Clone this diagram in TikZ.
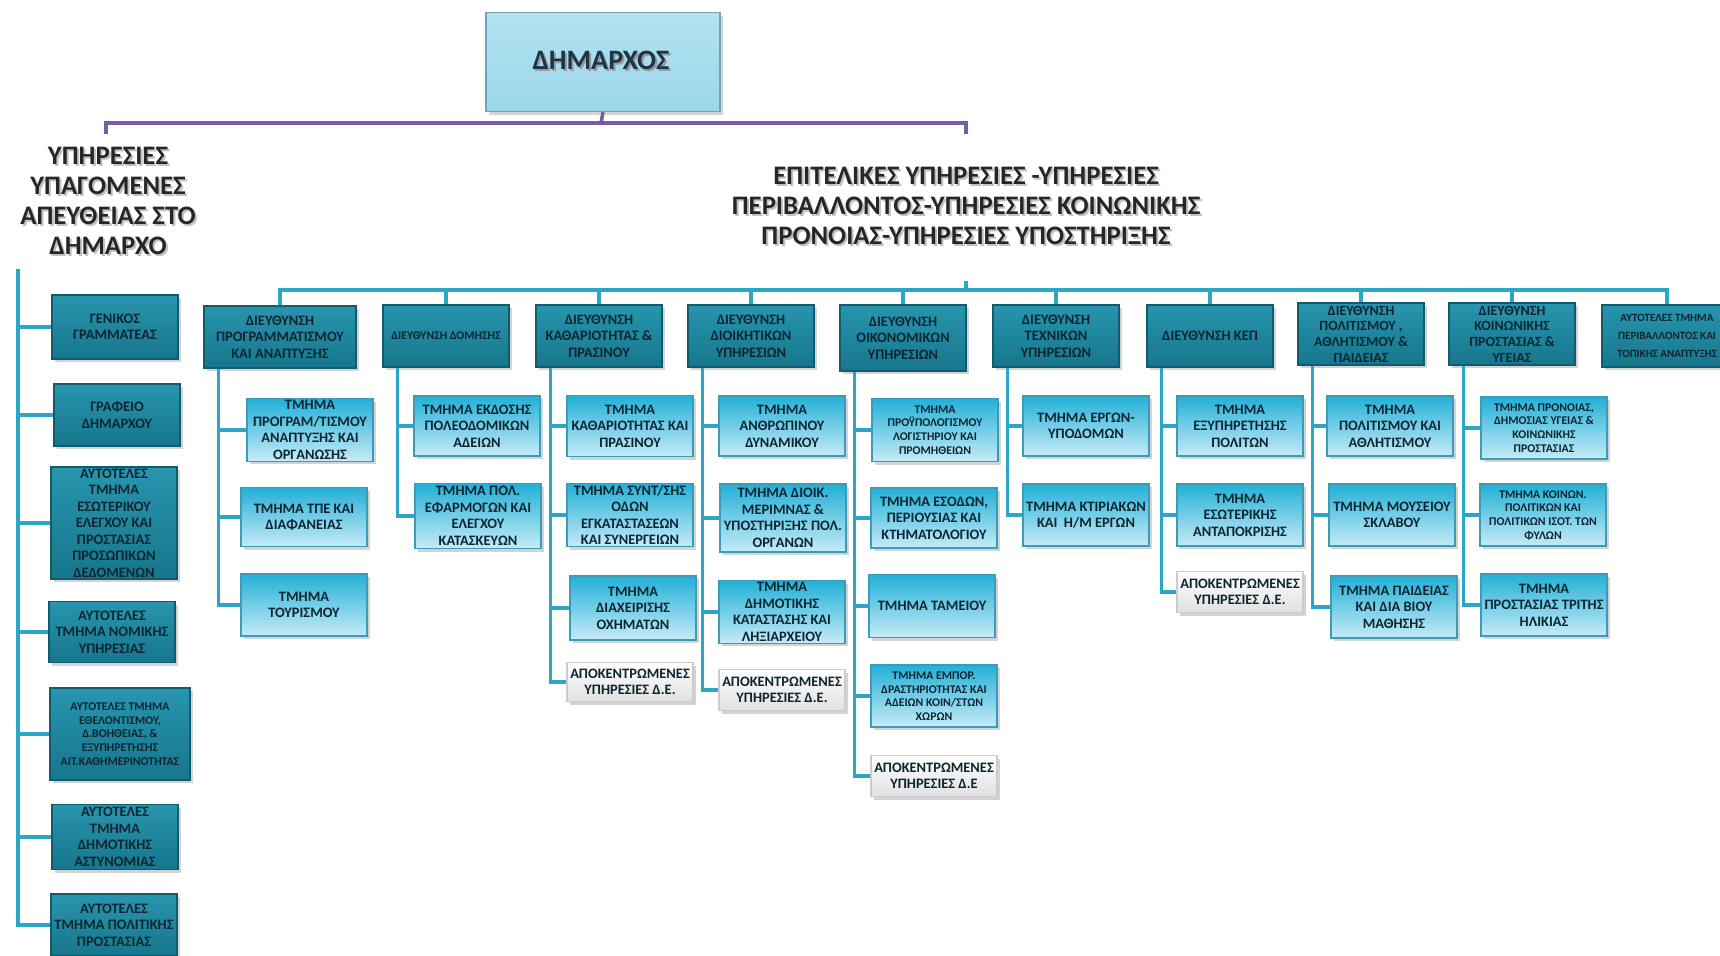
\documentclass[tikz,border=0pt]{standalone}
\usepackage{fontspec}
\setmainfont{Carlito}
\usepackage{tikz}
\usetikzlibrary{positioning, shadows}
\definecolor{dirtop}{HTML}{2895AE}
\definecolor{dirbot}{HTML}{16768D}
\definecolor{dirdark}{HTML}{0F5C6E}
\definecolor{sectop}{HTML}{22B0D7}
\definecolor{secbot}{HTML}{C6EBF7}
\definecolor{secdark}{HTML}{3C9CB8}
\definecolor{boxtext}{HTML}{0C2530}
\definecolor{linkcol}{HTML}{2CA6C6}
\definecolor{purp}{HTML}{7A5AA5}
\definecolor{mayor}{HTML}{9AD8EB}
\definecolor{mayortext}{HTML}{1E3448}

\begin{document}
\begin{tikzpicture}[x=0.2mm, y=-0.2mm,
    box/.style={rectangle, align=center, inner sep=1pt, minimum width=25.2mm, minimum height=12.4mm,
        font=\bfseries\fontsize{8.2}{9.4}\selectfont, text=boxtext,
        drop shadow={shadow xshift=0.6mm, shadow yshift=-0.6mm, opacity=0.35}},
    dirbox/.style={box, draw=dirdark, line width=0.8pt, top color=dirtop, bottom color=dirbot},
    secbox/.style={box, draw=secdark, line width=0.6pt, top color=sectop, bottom color=secbot},
    decbox/.style={box, draw=black!20, line width=0.6pt, top color=white, bottom color=black!12, minimum height=8.2mm},
    small/.style={font=\bfseries\fontsize{6.7}{7.8}\selectfont},
    head/.style={align=center, font=\bfseries\fontsize{15.2}{17}\selectfont, text=black!85},
    headsh/.style={head, text=black!35, opacity=0.7},
    link/.style={draw=linkcol, line width=1.8pt},
    plink/.style={draw=purp, line width=2pt}]
    \useasboundingbox (0,0) rectangle (1720,955);
    \clip (0,0) rectangle (1720,955);

    % mayor and headings
    \node[box, draw=mayor!75!black, line width=0.8pt, top color=mayor!75!white, bottom color=mayor,
        minimum width=46.8mm, minimum height=19.8mm, font=\bfseries\fontsize{16}{18}\selectfont, text=black!40] (dimsh) at (603,62) {ΔΗΜΑΡΧΟΣ};
    \node[font=\bfseries\fontsize{16}{18}\selectfont, text=mayortext] (dimtxt) at (601,60) {ΔΗΜΑΡΧΟΣ};
    \node[headsh] (lheadsh) at (110,203) {ΥΠΗΡΕΣΙΕΣ\\ΥΠΑΓΟΜΕΝΕΣ\\ΑΠΕΥΘΕΙΑΣ ΣΤΟ\\ΔΗΜΑΡΧΟ};
    \node[head] (lhead) at (108,201) {ΥΠΗΡΕΣΙΕΣ\\ΥΠΑΓΟΜΕΝΕΣ\\ΑΠΕΥΘΕΙΑΣ ΣΤΟ\\ΔΗΜΑΡΧΟ};
    \node[headsh] (rheadsh) at (968,208) {ΕΠΙΤΕΛΙΚΕΣ ΥΠΗΡΕΣΙΕΣ -ΥΠΗΡΕΣΙΕΣ\\ΠΕΡΙΒΑΛΛΟΝΤΟΣ-ΥΠΗΡΕΣΙΕΣ ΚΟΙΝΩΝΙΚΗΣ\\ΠΡΟΝΟΙΑΣ-ΥΠΗΡΕΣΙΕΣ ΥΠΟΣΤΗΡΙΞΗΣ};
    \node[head] (rhead) at (966,206) {ΕΠΙΤΕΛΙΚΕΣ ΥΠΗΡΕΣΙΕΣ -ΥΠΗΡΕΣΙΕΣ\\ΠΕΡΙΒΑΛΛΟΝΤΟΣ-ΥΠΗΡΕΣΙΕΣ ΚΟΙΝΩΝΙΚΗΣ\\ΠΡΟΝΟΙΑΣ-ΥΠΗΡΕΣΙΕΣ ΥΠΟΣΤΗΡΙΞΗΣ};

    \coordinate (pm) at (601,123);
    \coordinate (pl) at (106,134);
    \coordinate (pr) at (966,134);
    \draw[plink] (dimsh.south) -- (pm);
    \draw[plink] (pl) |- (pm) -| (pr);

    % services under the mayor
    \node[dirbox, minimum height=12.8mm] (l1) at (115,327) {ΓΕΝΙΚΟΣ\\ΓΡΑΜΜΑΤΕΑΣ};
    \node[dirbox] (l2) at (117,415) {ΓΡΑΦΕΙΟ\\ΔΗΜΑΡΧΟΥ};
    \node[dirbox, minimum height=19.4mm] (l3) at (114,523) {ΑΥΤΟΤΕΛΕΣ\\ΤΜΗΜΑ\\ΕΣΩΤΕΡΙΚΟΥ\\ΕΛΕΓΧΟΥ ΚΑΙ\\ΠΡΟΣΤΑΣΙΑΣ\\ΠΡΟΣΩΠΙΚΩΝ\\ΔΕΔΟΜΕΝΩΝ};
    \node[dirbox, minimum height=12.2mm] (l4) at (112,632) {ΑΥΤΟΤΕΛΕΣ\\ΤΜΗΜΑ ΝΟΜΙΚΗΣ\\ΥΠΗΡΕΣΙΑΣ};
    \node[dirbox, small, minimum width=28mm, minimum height=18.4mm] (l5) at (120,734) {ΑΥΤΟΤΕΛΕΣ ΤΜΗΜΑ\\ΕΘΕΛΟΝΤΙΣΜΟΥ,\\Δ.ΒΟΗΘΕΙΑΣ, \&\\ΕΞΥΠΗΡΕΤΗΣΗΣ\\ΑΙΤ.ΚΑΘΗΜΕΡΙΝΟΤΗΤΑΣ};
    \node[dirbox, minimum height=13mm] (l6) at (115,837) {ΑΥΤΟΤΕΛΕΣ\\ΤΜΗΜΑ\\ΔΗΜΟΤΙΚΗΣ\\ΑΣΤΥΝΟΜΙΑΣ};
    \node[dirbox] (l7) at (114,925) {ΑΥΤΟΤΕΛΕΣ\\ΤΜΗΜΑ ΠΟΛΙΤΙΚΗΣ\\ΠΡΟΣΤΑΣΙΑΣ};

    \coordinate (lv) at (18,269);
    \draw[link] (lv) |- (l1);
    \draw[link] (lv) |- (l2);
    \draw[link] (lv) |- (l3);
    \draw[link] (lv) |- (l4);
    \draw[link] (lv) |- (l5);
    \draw[link] (lv) |- (l6);
    \draw[link] (lv) |- (l7);

    % directorates
    \node[dirbox, minimum width=30.4mm] (d1) at (280,337) {ΔΙΕΥΘΥΝΣΗ\\ΠΡΟΓΡΑΜΜΑΤΙΣΜΟΥ\\ΚΑΙ ΑΝΑΠΤΥΞΗΣ};
    \node[dirbox, small] (d2) at (446,336) {ΔΙΕΥΘΥΝΣΗ ΔΟΜΗΣΗΣ};
    \node[dirbox] (d3) at (599,336) {ΔΙΕΥΘΥΝΣΗ\\ΚΑΘΑΡΙΟΤΗΤΑΣ \&\\ΠΡΑΣΙΝΟΥ};
    \node[dirbox] (d4) at (751,336) {ΔΙΕΥΘΥΝΣΗ\\ΔΙΟΙΚΗΤΙΚΩΝ\\ΥΠΗΡΕΣΙΩΝ};
    \node[dirbox, minimum height=13.2mm] (d5) at (903,338) {ΔΙΕΥΘΥΝΣΗ\\ΟΙΚΟΝΟΜΙΚΩΝ\\ΥΠΗΡΕΣΙΩΝ};
    \node[dirbox] (d6) at (1056,336) {ΔΙΕΥΘΥΝΣΗ\\ΤΕΧΝΙΚΩΝ\\ΥΠΗΡΕΣΙΩΝ};
    \node[dirbox] (d7) at (1210,336) {ΔΙΕΥΘΥΝΣΗ ΚΕΠ};
    \node[dirbox, font=\bfseries\fontsize{8}{8.9}\selectfont] (d8) at (1361,334) {ΔΙΕΥΘΥΝΣΗ\\ΠΟΛΙΤΙΣΜΟΥ ,\\ΑΘΛΗΤΙΣΜΟΥ \&\\ΠΑΙΔΕΙΑΣ};
    \node[dirbox, font=\bfseries\fontsize{8}{8.9}\selectfont] (d9) at (1512,334) {ΔΙΕΥΘΥΝΣΗ\\ΚΟΙΝΩΝΙΚΗΣ\\ΠΡΟΣΤΑΣΙΑΣ \&\\ΥΓΕΙΑΣ};
    \node[dirbox, font=\bfseries\fontsize{6.3}{10.4}\selectfont, minimum width=26mm] (d10) at (1667,336) {ΑΥΤΟΤΕΛΕΣ ΤΜΗΜΑ\\ΠΕΡΙΒΑΛΛΟΝΤΟΣ ΚΑΙ\\ΤΟΠΙΚΗΣ ΑΝΑΠΤΥΞΗΣ};

    \coordinate (bus) at (966,290);
    \coordinate (stub) at (966,281);
    \draw[link] (stub) -- (bus);
    \draw[link] (d1.north) |- (bus) -| (d10.north);
    \draw[link] (d2.north) -- (d2.north |- bus);
    \draw[link] (d3.north) -- (d3.north |- bus);
    \draw[link] (d4.north) -- (d4.north |- bus);
    \draw[link] (d5.north) -- (d5.north |- bus);
    \draw[link] (d6.north) -- (d6.north |- bus);
    \draw[link] (d7.north) -- (d7.north |- bus);
    \draw[link] (d8.north) -- (d8.north |- bus);
    \draw[link] (d9.north) -- (d9.north |- bus);

    % departments
    \node[secbox] (d1a) at (310,430) {ΤΜΗΜΑ\\ΠΡΟΓΡΑΜ/ΤΙΣΜΟΥ\\ΑΝΑΠΤΥΞΗΣ ΚΑΙ\\ΟΡΓΑΝΩΣΗΣ};
    \node[secbox, minimum height=11.8mm] (d1b) at (304,517) {ΤΜΗΜΑ ΤΠΕ ΚΑΙ\\ΔΙΑΦΑΝΕΙΑΣ};
    \node[secbox] (d1c) at (304,605) {ΤΜΗΜΑ\\ΤΟΥΡΙΣΜΟΥ};

    \node[secbox, minimum height=12mm] (d2a) at (477,426) {ΤΜΗΜΑ ΕΚΔΟΣΗΣ\\ΠΟΛΕΟΔΟΜΙΚΩΝ\\ΑΔΕΙΩΝ};
    \node[secbox, minimum height=13mm] (d2b) at (478,516) {ΤΜΗΜΑ ΠΟΛ.\\ΕΦΑΡΜΟΓΩΝ ΚΑΙ\\ΕΛΕΓΧΟΥ\\ΚΑΤΑΣΚΕΥΩΝ};

    \node[secbox, minimum height=12.2mm] (d3a) at (630,426) {ΤΜΗΜΑ\\ΚΑΘΑΡΙΟΤΗΤΑΣ ΚΑΙ\\ΠΡΑΣΙΝΟΥ};
    \node[secbox] (d3b) at (630,515) {ΤΜΗΜΑ ΣΥΝΤ/ΣΗΣ\\ΟΔΩΝ\\ΕΓΚΑΤΑΣΤΑΣΕΩΝ\\ΚΑΙ ΣΥΝΕΡΓΕΙΩΝ};
    \node[secbox, minimum height=12.8mm] (d3c) at (633,608) {ΤΜΗΜΑ\\ΔΙΑΧΕΙΡΙΣΗΣ\\ΟΧΗΜΑΤΩΝ};
    \node[decbox, minimum height=7.8mm] (d3d) at (630,682) {ΑΠΟΚΕΝΤΡΩΜΕΝΕΣ\\ΥΠΗΡΕΣΙΕΣ Δ.Ε.};

    \node[secbox, minimum height=12mm] (d4a) at (782,426) {ΤΜΗΜΑ\\ΑΝΘΡΩΠΙΝΟΥ\\ΔΥΝΑΜΙΚΟΥ};
    \node[secbox, minimum height=13.6mm] (d4b) at (783,518) {ΤΜΗΜΑ ΔΙΟΙΚ.\\ΜΕΡΙΜΝΑΣ \&\\ΥΠΟΣΤΗΡΙΞΗΣ ΠΟΛ.\\ΟΡΓΑΝΩΝ};
    \node[secbox] (d4c) at (782,612) {ΤΜΗΜΑ\\ΔΗΜΟΤΙΚΗΣ\\ΚΑΤΑΣΤΑΣΗΣ ΚΑΙ\\ΛΗΞΙΑΡΧΕΙΟΥ};
    \node[decbox] (d4d) at (782,690) {ΑΠΟΚΕΝΤΡΩΜΕΝΕΣ\\ΥΠΗΡΕΣΙΕΣ Δ.Ε.};

    \node[secbox, small, minimum height=12.6mm] (d5a) at (935,430) {ΤΜΗΜΑ\\ΠΡΟΫΠΟΛΟΓΙΣΜΟΥ\\ΛΟΓΙΣΤΗΡΙΟΥ ΚΑΙ\\ΠΡΟΜΗΘΕΙΩΝ};
    \node[secbox, minimum height=12mm] (d5b) at (934,518) {ΤΜΗΜΑ ΕΣΟΔΩΝ,\\ΠΕΡΙΟΥΣΙΑΣ ΚΑΙ\\ΚΤΗΜΑΤΟΛΟΓΙΟΥ};
    \node[secbox, minimum height=12.6mm] (d5c) at (932,606) {ΤΜΗΜΑ ΤΑΜΕΙΟΥ};
    \node[secbox, small] (d5d) at (934,696) {ΤΜΗΜΑ ΕΜΠΟΡ.\\ΔΡΑΣΤΗΡΙΟΤΗΤΑΣ ΚΑΙ\\ΑΔΕΙΩΝ ΚΟΙΝ/ΣΤΩΝ\\ΧΩΡΩΝ};
    \node[decbox] (d5e) at (934,776) {ΑΠΟΚΕΝΤΡΩΜΕΝΕΣ\\ΥΠΗΡΕΣΙΕΣ Δ.Ε};

    \node[secbox, minimum height=12mm] (d6a) at (1086,426) {ΤΜΗΜΑ ΕΡΓΩΝ-\\ΥΠΟΔΟΜΩΝ};
    \node[secbox] (d6b) at (1086,515) {ΤΜΗΜΑ ΚΤΙΡΙΑΚΩΝ\\ΚΑΙ \ Η/Μ ΕΡΓΩΝ};

    \node[secbox, minimum height=12mm] (d7a) at (1240,426) {ΤΜΗΜΑ\\ΕΞΥΠΗΡΕΤΗΣΗΣ\\ΠΟΛΙΤΩΝ};
    \node[secbox] (d7b) at (1240,515) {ΤΜΗΜΑ\\ΕΣΩΤΕΡΙΚΗΣ\\ΑΝΤΑΠΟΚΡΙΣΗΣ};
    \node[decbox] (d7c) at (1240,592) {ΑΠΟΚΕΝΤΡΩΜΕΝΕΣ\\ΥΠΗΡΕΣΙΕΣ Δ.Ε.};

    \node[secbox, minimum height=12mm] (d8a) at (1390,426) {ΤΜΗΜΑ\\ΠΟΛΙΤΙΣΜΟΥ ΚΑΙ\\ΑΘΛΗΤΙΣΜΟΥ};
    \node[secbox] (d8b) at (1392,515) {ΤΜΗΜΑ ΜΟΥΣΕΙΟΥ\\ΣΚΛΑΒΟΥ};
    \node[secbox] (d8c) at (1394,607) {ΤΜΗΜΑ ΠΑΙΔΕΙΑΣ\\ΚΑΙ ΔΙΑ ΒΙΟΥ\\ΜΑΘΗΣΗΣ};

    \node[secbox, small] (d9a) at (1544,428) {ΤΜΗΜΑ ΠΡΟΝΟΙΑΣ,\\ΔΗΜΟΣΙΑΣ ΥΓΕΙΑΣ \&\\ΚΟΙΝΩΝΙΚΗΣ\\ΠΡΟΣΤΑΣΙΑΣ};
    \node[secbox, small] (d9b) at (1543,515) {ΤΜΗΜΑ ΚΟΙΝΩΝ.\\ΠΟΛΙΤΙΚΩΝ ΚΑΙ\\ΠΟΛΙΤΙΚΩΝ ΙΣΟΤ. ΤΩΝ\\ΦΥΛΩΝ};
    \node[secbox] (d9c) at (1544,605) {ΤΜΗΜΑ\\ΠΡΟΣΤΑΣΙΑΣ ΤΡΙΤΗΣ\\ΗΛΙΚΙΑΣ};

    \coordinate (v1) at ([xshift=3.1mm]d1.south west);
    \coordinate (v2) at ([xshift=3.1mm]d2.south west);
    \coordinate (v3) at ([xshift=3.1mm]d3.south west);
    \coordinate (v4) at ([xshift=3.1mm]d4.south west);
    \coordinate (v5) at ([xshift=3.1mm]d5.south west);
    \coordinate (v6) at ([xshift=3.1mm]d6.south west);
    \coordinate (v7) at ([xshift=3.1mm]d7.south west);
    \coordinate (v8) at ([xshift=3.1mm]d8.south west);
    \coordinate (v9) at ([xshift=3.1mm]d9.south west);

    \draw[link] (v1) |- (d1a);
    \draw[link] (v1) |- (d1b);
    \draw[link] (v1) |- (d1c);
    \draw[link] (v2) |- (d2a);
    \draw[link] (v2) |- (d2b);
    \draw[link] (v3) |- (d3a);
    \draw[link] (v3) |- (d3b);
    \draw[link] (v3) |- (d3c);
    \draw[link] (v3) |- (d3d);
    \draw[link] (v4) |- (d4a);
    \draw[link] (v4) |- (d4b);
    \draw[link] (v4) |- (d4c);
    \draw[link] (v4) |- (d4d);
    \draw[link] (v5) |- (d5a);
    \draw[link] (v5) |- (d5b);
    \draw[link] (v5) |- (d5c);
    \draw[link] (v5) |- (d5d);
    \draw[link] (v5) |- (d5e);
    \draw[link] (v6) |- (d6a);
    \draw[link] (v6) |- (d6b);
    \draw[link] (v7) |- (d7a);
    \draw[link] (v7) |- (d7b);
    \draw[link] (v7) |- (d7c);
    \draw[link] (v8) |- (d8a);
    \draw[link] (v8) |- (d8b);
    \draw[link] (v8) |- (d8c);
    \draw[link] (v9) |- (d9a);
    \draw[link] (v9) |- (d9b);
    \draw[link] (v9) |- (d9c);
\end{tikzpicture}
\end{document}
